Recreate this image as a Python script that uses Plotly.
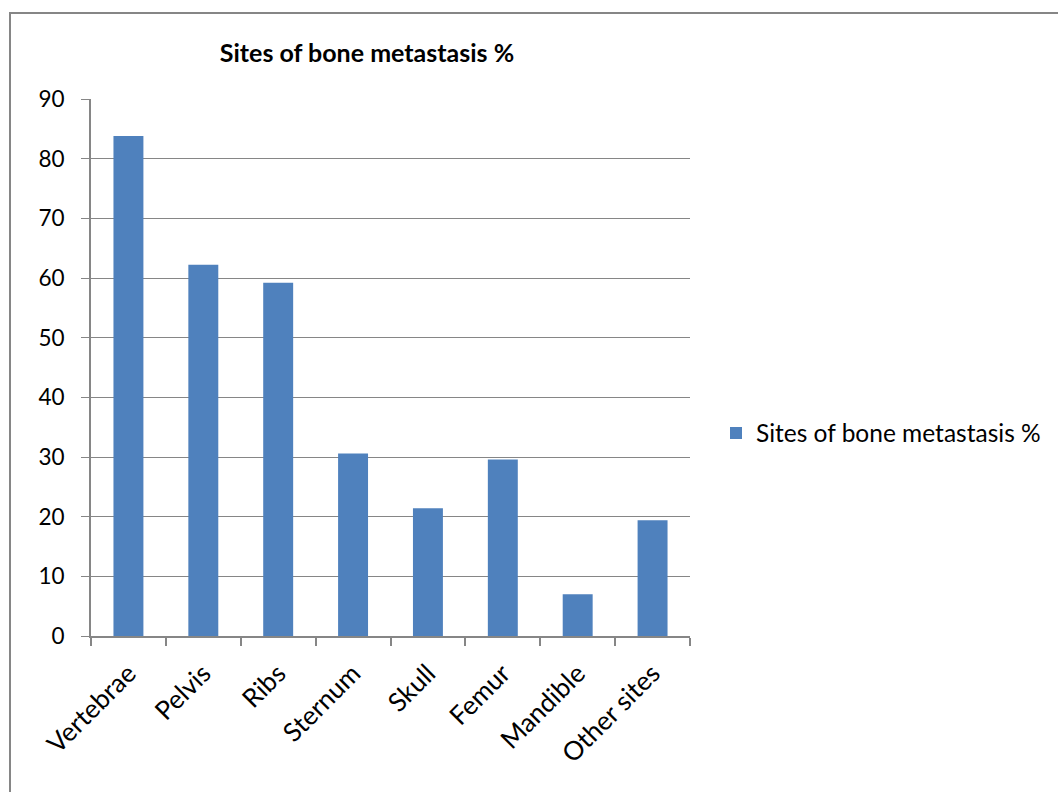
import plotly.graph_objects as go

categories = ["Vertebrae", "Pelvis", "Ribs", "Sternum", "Skull", "Femur", "Mandible", "Other sites"]
values = [83.8, 62.2, 59.2, 30.6, 21.4, 29.6, 7.0, 19.4]
y_ticks = [0, 10, 20, 30, 40, 50, 60, 70, 80, 90]
series_name = "Sites of bone metastasis %"

W, H = 1058, 792
L, R, T, B = 91, 690, 99, 636
pw, ph = R - L, B - T

fig = go.Figure()
fig.add_trace(go.Bar(
    x=categories, y=values, name=series_name,
    marker=dict(color="#4F81BD", line=dict(width=0)),
    showlegend=True,
))

font = "Lato, 'Open Sans', sans-serif"
fig.update_layout(
    width=W, height=H,
    margin=dict(l=L, r=W - R, t=T, b=H - B, pad=0),
    paper_bgcolor="white", plot_bgcolor="white",
    bargap=0.6,
    font=dict(family=font, size=22, color="black"),
    title=dict(text="<b>" + series_name + "</b>", xref="container", yref="container",
               x=367 / W, xanchor="center", y=1 - 53 / H, yanchor="middle",
               font=dict(size=25, family=font, color="black")),
    showlegend=True,
    legend=dict(x=(716 - L) / pw, xanchor="left", y=(B - 433) / ph, yanchor="middle",
                font=dict(size=24.5, family=font), itemwidth=30, bgcolor="rgba(0,0,0,0)"),
    xaxis=dict(
        type="category", tickangle=-45, showgrid=False,
        showline=True, linecolor="#868686", linewidth=2,
        ticks="outside", ticklen=8, tickcolor="#868686", tickwidth=2,
        tickson="boundaries", ticklabelstandoff=10,
        tickfont=dict(size=26, family=font),
    ),
    yaxis=dict(
        range=[0, 90], tickvals=y_ticks, showgrid=True, gridcolor="#868686", gridwidth=1,
        showline=True, linecolor="#868686", linewidth=2,
        ticks="outside", ticklen=8, tickcolor="#868686", tickwidth=1,
        ticklabelstandoff=12,
        tickfont=dict(size=22.5, family=font), zeroline=False,
    ),
    shapes=[dict(type="rect", xref="paper", yref="paper",
                 x0=(10 - L) / pw, x1=(1070 - L) / pw,
                 y0=(B - 800) / ph, y1=(B - 13) / ph,
                 line=dict(color="#868686", width=2), fillcolor="rgba(0,0,0,0)", layer="below")],
)

fig.write_html("out.html")
